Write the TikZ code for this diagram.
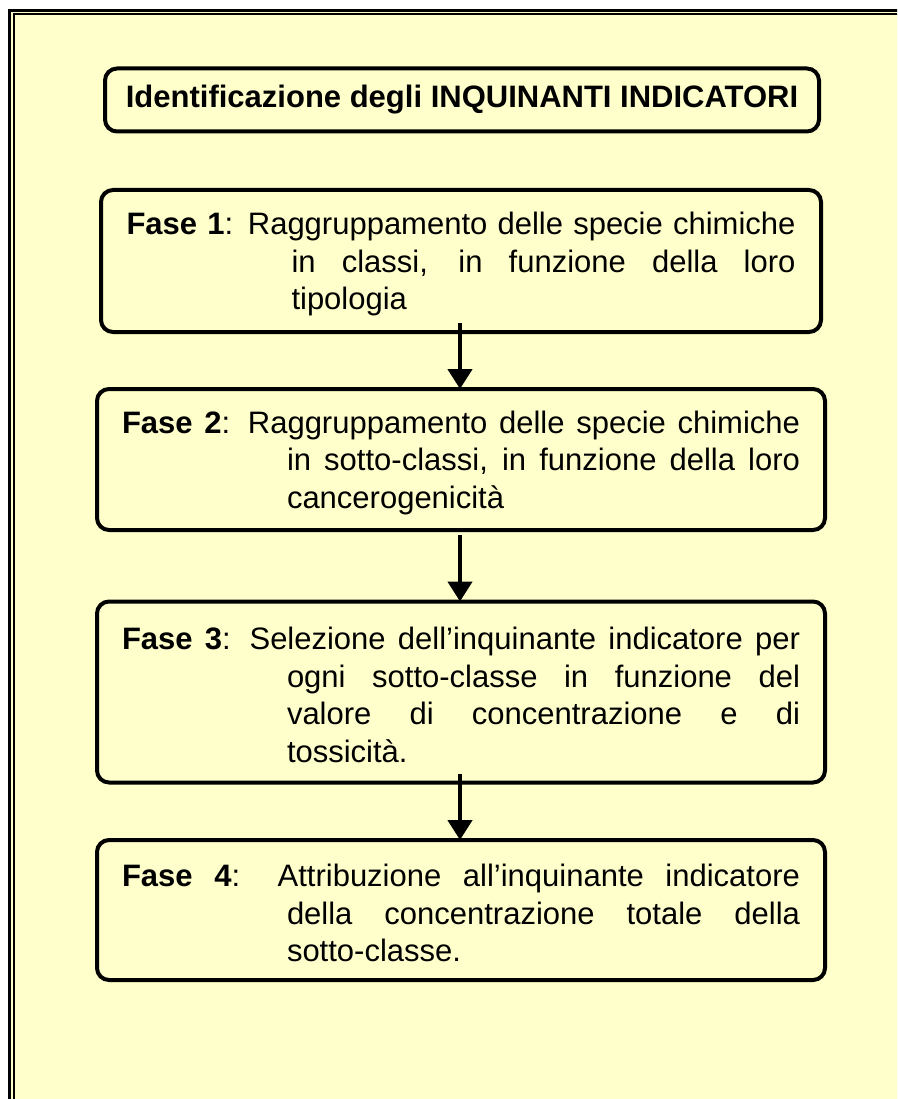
\documentclass[tikz,border=0pt]{standalone}
\usepackage{fontspec}
\setmainfont{Liberation Sans}
\usetikzlibrary{arrows.meta}
\definecolor{paper}{RGB}{255,255,204}
\newcommand{\phasetext}[2]{\parbox{#1}{\vspace*{6pt}\fontsize{31}{37.5}\selectfont
  \hyphenpenalty=10000\exhyphenpenalty=10000\tolerance=10000\emergencystretch=20pt
  \parindent=0pt\hangindent=165pt\hangafter=1 #2\par}}
\begin{document}
\begin{tikzpicture}[x=1pt,y=-1pt,
  phasebox/.style={draw, line width=4pt, rounded corners=12pt, fill=paper,
    inner sep=0pt, outer sep=0pt, align=left},
  flowarrow/.style={line width=4.5pt, -{Triangle[width=24pt,length=20pt]}}]
\useasboundingbox (0,0) rectangle (897,1099);
\clip (0,0) rectangle (897,1099);
\fill[white] (0,0) rectangle (897,1099);
\fill[paper] (9.8,10.3) rectangle (920,1120);
\draw[line width=3pt] (9.8,10.3) rectangle (920,1120);
\draw[line width=2pt] (14,14) rectangle (915,1115);

\node[phasebox, minimum width=714pt, minimum height=63pt, font=\fontsize{31}{36}\selectfont\bfseries]
  (title) at (462,100) {Identificazione degli INQUINANTI INDICATORI};

\node[phasebox, minimum width=720pt, minimum height=142pt] (b1) at (461,261)
  {\phasetext{669pt}{\textbf{Fase 1}: Raggruppamento delle specie chimiche\linebreak
   in classi, in funzione della loro\linebreak tipologia}};

\node[phasebox, minimum width=728pt, minimum height=141pt] (b2) at (461,459.5)
  {\phasetext{678pt}{\textbf{Fase 2}: Raggruppamento delle specie chimiche\linebreak
   in sotto-classi, in funzione della loro\linebreak cancerogenicità}};

\node[phasebox, minimum width=728pt, minimum height=181pt] (b3) at (461,692)
  {\phasetext{678pt}{\textbf{Fase 3}: Selezione dell’inquinante indicatore per\linebreak
   ogni sotto-classe in funzione del\linebreak valore di concentrazione e di\linebreak tossicità.}};

\node[phasebox, minimum width=728pt, minimum height=140pt] (b4) at (461,910)
  {\phasetext{678pt}{\textbf{Fase 4}: Attribuzione all’inquinante indicatore\linebreak
   della concentrazione totale della\linebreak sotto-classe.}};

\draw[flowarrow] ([xshift=-1pt,yshift=9pt]b1.south) -- ([xshift=-1pt]b2.north);
\draw[flowarrow] ([xshift=-1pt,yshift=-5pt]b2.south) -- ([xshift=-1pt]b3.north);
\draw[flowarrow] ([xshift=-1pt,yshift=9pt]b3.south) -- ([xshift=-1pt]b4.north);
\end{tikzpicture}
\end{document}
